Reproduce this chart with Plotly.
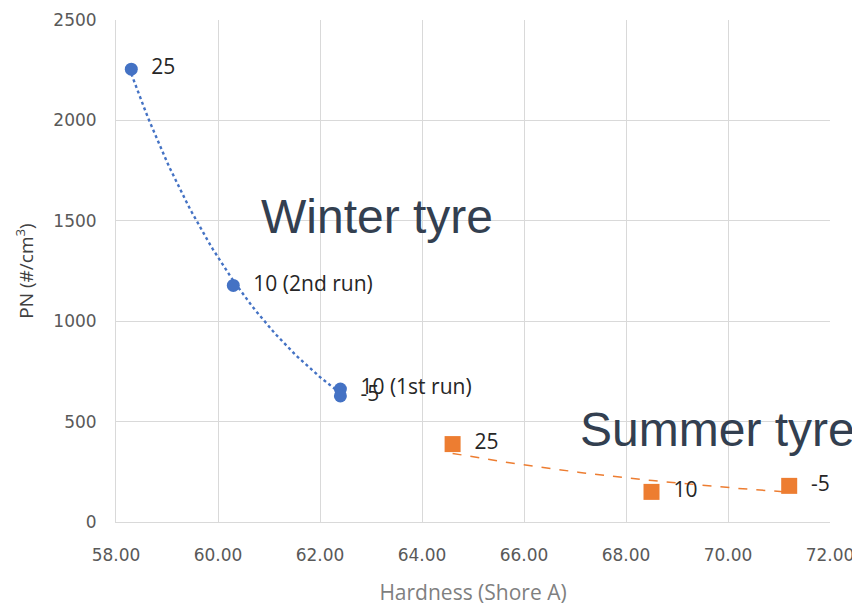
import numpy as np
import plotly.graph_objects as go

winter_x = [58.3, 60.3, 62.4, 62.4]
winter_y = [2255, 1178, 662, 628]
winter_labels = ["25", "10 (2nd run)", "10 (1st run)", "-5"]

summer_x = [64.6, 68.5, 71.2]
summer_y = [388, 150, 180]
summer_labels = ["25", "10", "-5"]

x_ticks = [58, 60, 62, 64, 66, 68, 70, 72]
y_ticks = [0, 500, 1000, 1500, 2000, 2500]


def power_fit(xs, ys):
    b, a = np.polyfit(np.log(xs), np.log(ys), 1)
    xx = np.linspace(min(xs), max(xs), 60)
    return xx, np.exp(a) * xx ** b


BLUE = "#4472C4"
ORANGE = "#ED7D31"
LABEL_FONT = dict(family="Open Sans, Liberation Sans, sans-serif", size=21, color="#262626")

fig = go.Figure()

wx, wy = power_fit(winter_x, winter_y)
fig.add_trace(go.Scatter(x=wx, y=wy, mode="lines",
                         line=dict(color=BLUE, width=2.4, dash="dot"),
                         hoverinfo="skip", showlegend=False))
sx, sy = power_fit(summer_x, summer_y)
fig.add_trace(go.Scatter(x=sx, y=sy, mode="lines",
                         line=dict(color=ORANGE, width=1.5, dash="dash"),
                         hoverinfo="skip", showlegend=False))

fig.add_trace(go.Scatter(x=winter_x, y=winter_y, mode="markers+text",
                         marker=dict(color=BLUE, size=13, symbol="circle"),
                         text=["  " + t for t in winter_labels],
                         textposition="middle right", textfont=LABEL_FONT,
                         cliponaxis=False, showlegend=False))
fig.add_trace(go.Scatter(x=summer_x, y=summer_y, mode="markers+text",
                         marker=dict(color=ORANGE, size=16, symbol="square"),
                         text=["  " + t for t in summer_labels],
                         textposition="middle right", textfont=LABEL_FONT,
                         cliponaxis=False, showlegend=False))

ann_font = dict(family="Liberation Sans, Arial, sans-serif", size=48, color="#333F50")
fig.add_annotation(x=63.12, y=1520, text="Winter tyre", showarrow=False, font=ann_font)
fig.add_annotation(x=69.8, y=462, text="Summer tyre", showarrow=False, font=ann_font)

tick_font = dict(family="DejaVu Sans, sans-serif", size=17, color="#595959")
fig.update_xaxes(range=[58, 72], tickvals=x_ticks,
                 ticktext=[f"{v:.2f}" for v in x_ticks],
                 showgrid=True, gridcolor="#D9D9D9", gridwidth=1,
                 zeroline=False, showline=True, linecolor="#D9D9D9",
                 tickfont=tick_font, ticks="", ticklabelstandoff=18,
                 title=dict(text="Hardness (Shore A)",
                            font=dict(family="Open Sans, sans-serif", size=21, color="#7F7F7F"),
                            standoff=20))
fig.update_yaxes(range=[0, 2500], tickvals=y_ticks,
                 showgrid=True, gridcolor="#D9D9D9", gridwidth=1,
                 zeroline=False, showline=True, linecolor="#D9D9D9",
                 tickfont=tick_font, ticks="", ticklabelstandoff=15,
                 title=dict(text="PN (#/cm<sup>3</sup>)",
                            font=dict(family="Open Sans, sans-serif", size=19, color="#404040"),
                            standoff=14))

fig.update_layout(width=860, height=604,
                  margin=dict(l=108, r=38, t=12, b=90, autoexpand=False),
                  plot_bgcolor="white", paper_bgcolor="white")

fig.write_html("out.html")
